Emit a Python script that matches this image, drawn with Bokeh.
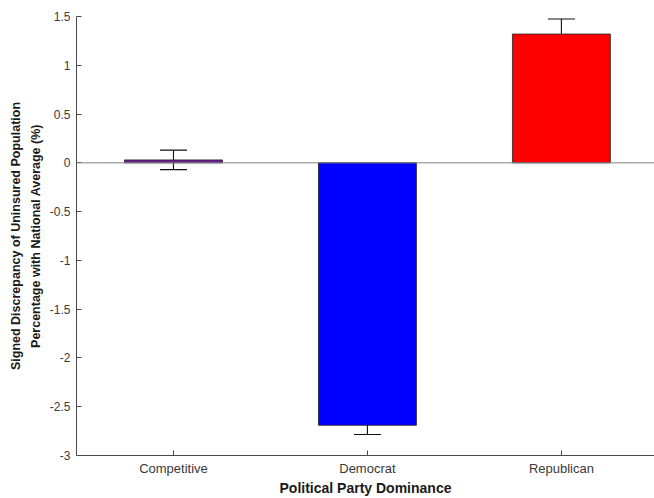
from bokeh.plotting import figure
from bokeh.models import ColumnDataSource, Range1d, FixedTicker, Whisker, Span, Title, TeeHead
from bokeh.embed import file_html
from bokeh.resources import INLINE

categories = ["Competitive", "Democrat", "Republican"]
values = [0.03, -2.69, 1.32]
errors = [0.10, 0.095, 0.155]
colors = ["#6f1a96", "#0000ff", "#ff0000"]
y_ticks = [-3, -2.5, -2, -1.5, -1, -0.5, 0, 0.5, 1, 1.5]
y_tick_labels = ["-3", "-2.5", "-2", "-1.5", "-1", "-0.5", "0", "0.5", "1", "1.5"]

xs = [i + 1 for i in range(len(categories))]
src = ColumnDataSource(dict(
    x=xs, top=values, color=colors,
    upper=[v + e for v, e in zip(values, errors)],
    lower=[v - e for v, e in zip(values, errors)],
))

p = figure(width=654, height=498, output_backend="svg", toolbar_location=None,
           x_range=Range1d(0.5, 3.48), y_range=Range1d(-3, 1.5),
           min_border_left=76, min_border_right=0, min_border_top=16, min_border_bottom=41)
p.outline_line_color = None
p.grid.visible = False
p.background_fill_color = "white"

p.vbar(x="x", top="top", bottom=0, width=0.505, fill_color="color",
       line_color="#222222", line_width=0.8, source=src)

p.add_layout(Span(location=0, dimension="width", line_color="#808080", line_width=1))

w = Whisker(base="x", upper="upper", lower="lower", source=src,
            line_color="#111111", line_width=1.1,
            upper_head=TeeHead(size=27, line_color="#111111", line_width=1.1),
            lower_head=TeeHead(size=27, line_color="#111111", line_width=1.1))
p.add_layout(w)

font = "Liberation Sans"
p.xaxis.ticker = FixedTicker(ticks=xs)
p.xaxis.major_label_overrides = {x: c for x, c in zip(xs, categories)}
p.yaxis.ticker = FixedTicker(ticks=y_ticks)
p.yaxis.major_label_overrides = {t: l for t, l in zip(y_ticks, y_tick_labels)}
for ax in (p.xaxis, p.yaxis):
    ax.axis_line_color = "#4a4a4a"
    ax.axis_line_width = 1
    ax.major_tick_line_color = "#4a4a4a"
    ax.major_tick_in = 5
    ax.major_tick_out = 0
    ax.minor_tick_line_color = None
    ax.major_label_text_font = font
    ax.major_label_text_color = "#3a3a3a"
p.xaxis.major_label_text_font_size = "13px"
p.yaxis.major_label_text_font_size = "12px"
p.xaxis.major_label_standoff = 5
p.yaxis.major_label_standoff = 6

p.xaxis.axis_label = "Political Party Dominance"
p.xaxis.axis_label_text_font = font
p.xaxis.axis_label_text_font_size = "14px"
p.xaxis.axis_label_text_font_style = "bold"
p.xaxis.axis_label_text_color = "#1a1a1a"
p.xaxis.axis_label_standoff = 1

t2 = Title(text="Percentage with National Average (%)", align="center",
           text_font=font, text_font_size="12.5px", text_font_style="bold",
           text_color="#1a1a1a", standoff=7, offset=0)
t1 = Title(text="Signed Discrepancy of Uninsured Population", align="center",
           text_font=font, text_font_size="12.5px", text_font_style="bold",
           text_color="#1a1a1a", standoff=2, offset=0)
p.add_layout(t2, "left")
p.add_layout(t1, "left")

open("out.html", "w").write(file_html(p, INLINE))
